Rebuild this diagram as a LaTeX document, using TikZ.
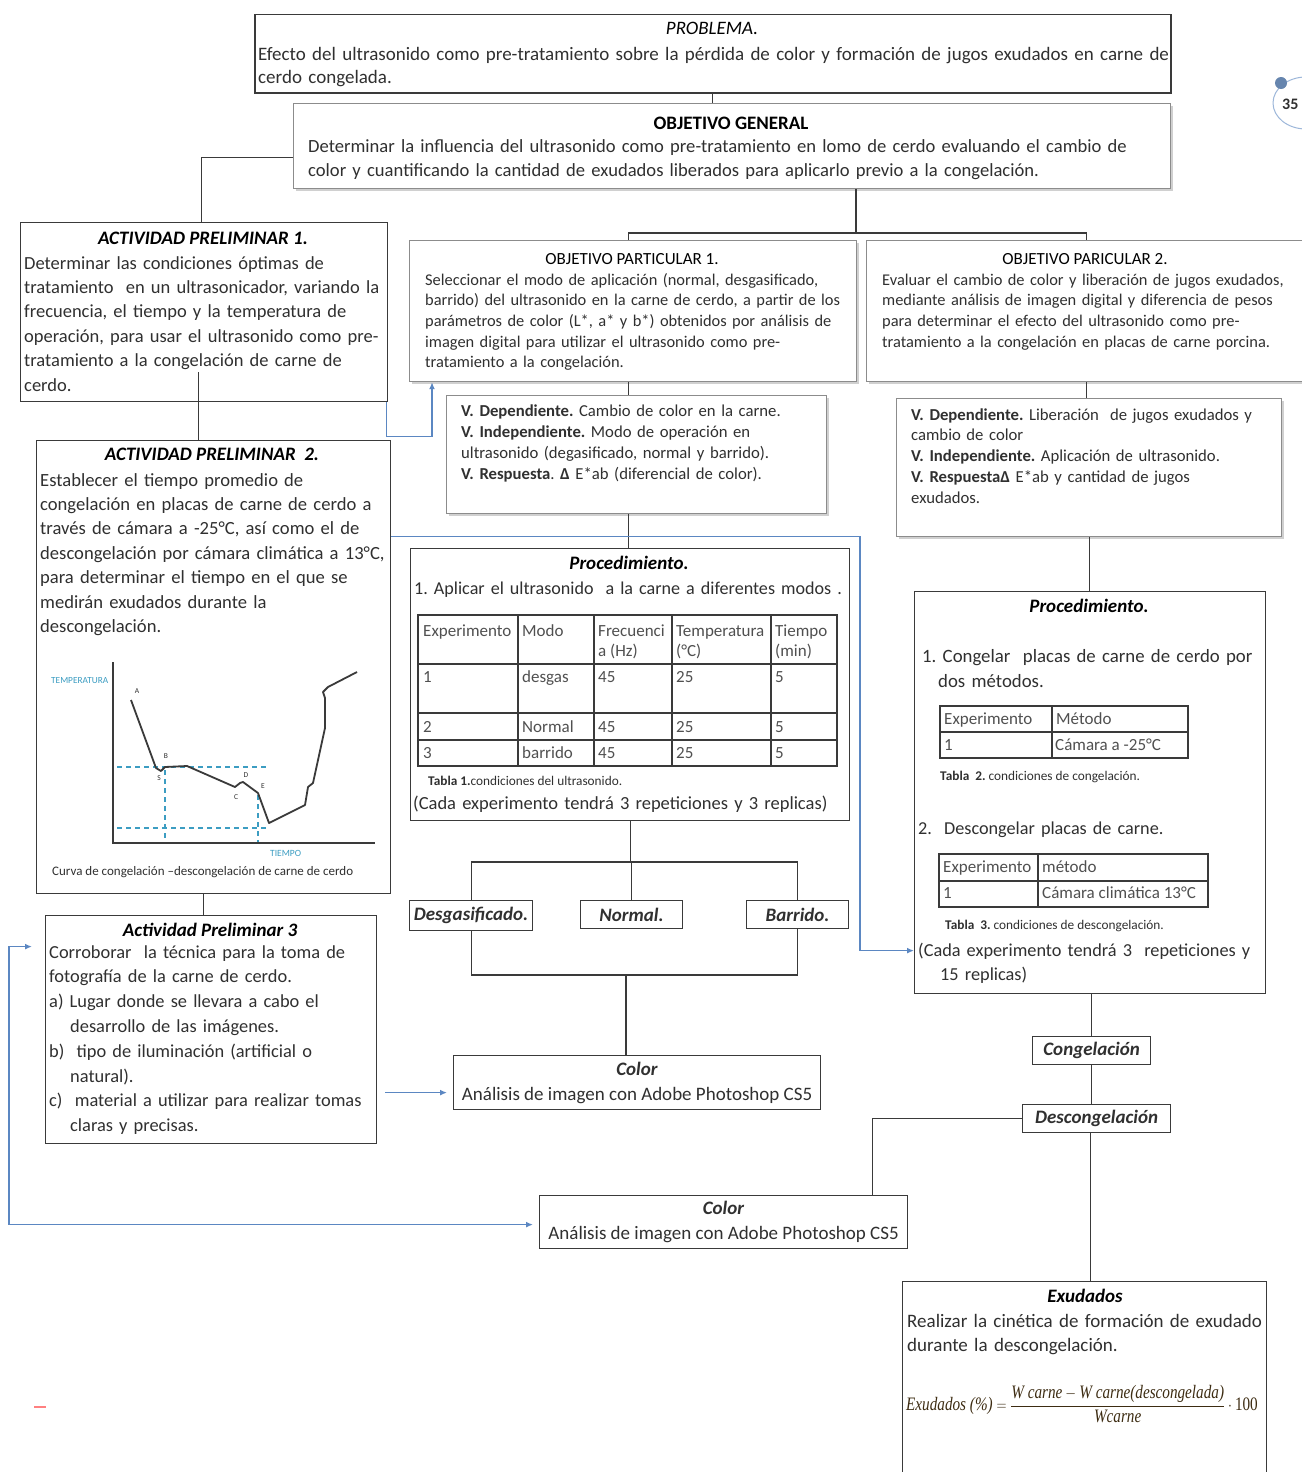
\documentclass[tikz,border=0pt]{standalone}
\usepackage{fontspec}
\usepackage{amsmath}
\usepackage{graphicx}
\setmainfont{Carlito}
\newfontfamily\formulafont{Liberation Serif}
\usetikzlibrary{shadows,arrows.meta}
\frenchspacing

\definecolor{inkbody}{HTML}{303030}
\definecolor{inkframe}{HTML}{3A3A3A}
\definecolor{inksoft}{HTML}{8C8C8C}
\definecolor{inkblue}{HTML}{5B87C2}
\definecolor{inkteal}{HTML}{3C9DC2}
\definecolor{inkcell}{HTML}{505050}
\definecolor{inkformula}{HTML}{3D2C12}

\newcommand\fs[2]{\fontsize{#1pt}{#2pt}\selectfont}
\newcommand\jl[1]{\makebox[\hsize][s]{#1}\\}
\newcommand\fv[1]{\text{\formulafont\itshape #1}}
\newcommand\cellat[3]{\node[celltxt] (#1) at (#2) {#3};}
\newcommand\twoline[2]{\begin{tabular}{@{}c@{}}#1\\#2\end{tabular}}

\tikzset{
  plainbox/.style={draw=inkframe, line width=1.2pt, fill=white, inner sep=0pt, anchor=north west},
  shadebox/.style={draw=inksoft, line width=1.2pt, fill=white, inner sep=0pt, anchor=north west,
     drop shadow={opacity=0.3, shadow xshift=2.5pt, shadow yshift=-2.5pt, fill=black!60}},
  tagbox/.style={plainbox, font=\fs{19}{22}\bfseries\itshape, text=inkbody},
  bodytxt/.style={anchor=base west, inner sep=0pt, text=inkbody},
  titletxt/.style={anchor=base, inner sep=0pt, text=black},
  celltxt/.style={anchor=base west, inner sep=0pt, text=inkcell, font=\fs{17}{18}},
  captxt/.style={anchor=base west, inner sep=0pt, text=inkbody, font=\fs{13.3}{14}},
  wire/.style={draw=inkframe, line width=1.1pt},
  bluewire/.style={draw=inkblue, line width=1.4pt, -{Latex[length=7pt,width=6pt]}},
  gridline/.style={draw=inkframe, line width=1.3pt},
  chartlbl/.style={inner sep=0pt, font=\fs{7.5}{8}, text=inkbody},
}

\begin{document}
\begin{tikzpicture}[x=1pt,y=-1pt]
\useasboundingbox (0,0) rectangle (1301,1472);
\fill[white] (0,0) rectangle (1301,1472);

% ---------- problem statement
\node[plainbox, line width=1.5pt, minimum width=916pt, minimum height=78pt] (prob) at (254,14) {};
\node[titletxt, font=\fs{19}{22}\itshape] (probt) at (712,35) {PROBLEMA.};
\node[bodytxt, text width=907pt, font=\fs{19}{24}] (probx) at (258,60)
  {\jl{Efecto del ultrasonido como pre-tratamiento sobre la pérdida de color y formación de jugos exudados en carne de}cerdo congelada.};

% ---------- general objective
\node[shadebox, minimum width=877pt, minimum height=85pt] (objg) at (293,103) {};
\node[titletxt, font=\fs{19}{22}\bfseries] (objgt) at (731,129) {OBJETIVO GENERAL};
\node[bodytxt, text width=950pt, font=\fs{18.6}{24}] (objgx) at (308,152)
  {Determinar la influencia del ultrasonido como pre-tratamiento en lomo de cerdo evaluando el cambio de\\color y cuantificando la cantidad de exudados liberados para aplicarlo previo a la congelación.};

% ---------- preliminary activity 1
\node[plainbox, minimum width=367pt, minimum height=179pt] (ap1) at (20,222) {};
\node[titletxt, font=\fs{19}{22}\bfseries\itshape] (ap1t) at (203,244) {ACTIVIDAD PRELIMINAR 1.};
\node[bodytxt, text width=359pt, font=\fs{18.5}{24.4}] (ap1x) at (24,269)
  {\jl{Determinar las condiciones óptimas de}\jl{tratamiento\ \ en un ultrasonicador, variando la}\jl{frecuencia, el tiempo y la temperatura de}\jl{operación, para usar el ultrasonido como pre-}\jl{tratamiento a la congelación de carne de}cerdo.};

% ---------- particular objectives
\node[shadebox, minimum width=447pt, minimum height=141pt] (op1) at (409,240) {};
\node[titletxt, font=\fs{17}{18}] (op1t) at (632,264.5) {OBJETIVO PARTICULAR 1.};
\node[bodytxt, text width=500pt, font=\fs{16.4}{20.7}] (op1x) at (425,285)
  {Seleccionar el modo de aplicación (normal, desgasificado,\\barrido) del ultrasonido en la carne de cerdo, a partir de los\\parámetros de color (L*, a* y b*) obtenidos por análisis de\\imagen digital para utilizar el ultrasonido como pre-\\tratamiento a la congelación.};

\node[shadebox, minimum width=440pt, minimum height=141pt] (op2) at (866,240) {};
\node[titletxt, font=\fs{17}{18}] (op2t) at (1085,264.5) {OBJETIVO PARICULAR 2.};
\node[bodytxt, text width=500pt, font=\fs{16.4}{20.7}] (op2x) at (882,285)
  {Evaluar el cambio de color y liberación de jugos exudados,\\mediante análisis de imagen digital y diferencia de pesos\\para determinar el efecto del ultrasonido como pre-\\tratamiento a la congelación en placas de carne porcina.};

% ---------- variables
\node[shadebox, minimum width=380pt, minimum height=118pt] (v1) at (446,395) {};
\node[bodytxt, text width=500pt, font=\fs{16.7}{21}] (v1x) at (461,416)
  {\textbf{V. Dependiente.} Cambio de color en la carne.\\\textbf{V. Independiente.} Modo de operación en\\ultrasonido (degasificado, normal y barrido).\\\textbf{V. Respuesta}. \textbf{Δ} E*ab (diferencial de color).};

\node[shadebox, minimum width=385pt, minimum height=138pt] (v2) at (896,398) {};
\node[bodytxt, text width=500pt, font=\fs{16.7}{20.8}] (v2x) at (911,420)
  {\textbf{V. Dependiente.} Liberación\ \ de jugos exudados y\\cambio de color\\\textbf{V. Independiente.} Aplicación de ultrasonido.\\\textbf{V. Respuesta}\textbf{Δ} E*ab y cantidad de jugos\\exudados.};

% ---------- preliminary activity 2
\node[plainbox, minimum width=354pt, minimum height=453pt] (ap2) at (36,440) {};
\node[titletxt, font=\fs{19}{22}\bfseries\itshape] (ap2t) at (212,460) {ACTIVIDAD PRELIMINAR\ \ 2.};
\node[bodytxt, text width=346pt, font=\fs{18.6}{24.4}] (ap2x) at (40,486)
  {\jl{Establecer el tiempo promedio de}\jl{congelación en placas de carne de cerdo a}\jl{través de cámara a -25°C, así como el de}\jl{descongelación por cámara climática a 13°C,}\jl{para determinar el tiempo en el que se}\jl{medirán exudados durante la}descongelación.};

% freezing / thawing curve
\draw[inkteal, line width=1.3pt, dash pattern=on 5pt off 4pt]
  (117,767) -- (268,767) (165,770) -- (165,842)
  (117,828) -- (268,828) (258,795) -- (258,842);
\draw[inkframe, line width=1.5pt] (113,662) -- (113,843) -- (375,843);
\draw[inkframe, line width=1.8pt, line join=round]
  (131,700) -- (156,768) -- (161,771) -- (165,767) -- (187,766) -- (235,787)
  -- (240,783) -- (243,782) -- (258,793) -- (269,823) -- (275,820) -- (305,805)
  -- (308,787) -- (313,783) -- (325,728) -- (325,698) -- (323,692) -- (328,687) -- (357,672);
\node[chartlbl] (lbA) at (137,691) {A};
\node[chartlbl] (lbB) at (166,756) {B};
\node[chartlbl] (lbS) at (159,778) {S};
\node[chartlbl] (lbD) at (246,775) {D};
\node[chartlbl] (lbC) at (236,797) {C};
\node[chartlbl] (lbE) at (263,786) {E};
\node[inner sep=0pt, anchor=west, font=\fs{9.3}{10}, text=inkteal] (lbTemp) at (51,681) {TEMPERATURA};
\node[inner sep=0pt, anchor=west, font=\fs{9.5}{10}, text=inkteal] (lbTime) at (270,853) {TIEMPO};
\node[inner sep=0pt, anchor=west, font=\fs{13}{14}, text=inkbody] (lbCap) at (52,872)
  {Curva de congelación –descongelación de carne de cerdo};

% ---------- preliminary activity 3
\node[plainbox, minimum width=331pt, minimum height=228pt] (ap3) at (45,915) {};
\node[titletxt, font=\fs{19}{22}\bfseries\itshape] (ap3t) at (210,936) {Actividad Preliminar 3};
\node[bodytxt, text width=400pt, font=\fs{18.4}{24.8}] (ap3x) at (49,958)
  {Corroborar\ \ la técnica para la toma de\\fotografía de la carne de cerdo.\\a) Lugar donde se llevara a cabo el\\\hspace*{21pt}desarrollo de las imágenes.\\b)\ \ tipo de iluminación (artificial o\\\hspace*{21pt}natural).\\c)\ \ material a utilizar para realizar tomas\\\hspace*{21pt}claras y precisas.};

% ---------- procedure 1
\node[plainbox, minimum width=439pt, minimum height=272pt] (p1) at (410,548) {};
\node[titletxt, font=\fs{19}{22}\bfseries\itshape] (p1t) at (629,569) {Procedimiento.};
\node[bodytxt, text width=500pt, font=\fs{18.1}{22}] (p1a) at (414,594) {1. Aplicar el ultrasonido\ \ a la carne a diferentes modos .};
\draw[gridline] (418,615) rectangle (837,766);
\draw[gridline] (418,664) -- (837,664) (418,713) -- (837,713) (418,740) -- (837,740)
  (518,615) -- (518,766) (594,615) -- (594,766) (672,615) -- (672,766) (771,615) -- (771,766);
\cellat{ta1}{423,636.5}{Experimento}
\cellat{ta2}{522,636.5}{Modo}
\cellat{ta3}{598,636.5}{Frecuenci}
\cellat{ta4}{676,636.5}{Temperatura}
\cellat{ta5}{775,636.5}{Tiempo}
\cellat{tb3}{598,656.5}{a (Hz)}
\cellat{tb4}{676,656.5}{(°C)}
\cellat{tb5}{775,656.5}{(min)}
\cellat{tc1}{423,682.5}{1}
\cellat{tc2}{522,682.5}{desgas}
\cellat{tc3}{598,682.5}{45}
\cellat{tc4}{676,682.5}{25}
\cellat{tc5}{775,682.5}{5}
\cellat{td1}{423,732.5}{2}
\cellat{td2}{522,732.5}{Normal}
\cellat{td3}{598,732.5}{45}
\cellat{td4}{676,732.5}{25}
\cellat{td5}{775,732.5}{5}
\cellat{te1}{423,758.5}{3}
\cellat{te2}{522,758.5}{barrido}
\cellat{te3}{598,758.5}{45}
\cellat{te4}{676,758.5}{25}
\cellat{te5}{775,758.5}{5}
\node[captxt] (p1cap) at (428,785.5) {\textbf{Tabla\ 1.}condiciones del ultrasonido.};
\node[bodytxt, text width=500pt, font=\fs{18.5}{22}] (p1b) at (413,809) {(Cada experimento tendrá 3 repeticiones y 3 replicas)};

% ---------- operating modes
\node[tagbox, minimum width=123pt, minimum height=30pt] (des) at (409,900) {Desgasificado.};
\node[tagbox, minimum width=102pt, minimum height=28pt] (nor) at (580,900) {Normal.};
\node[tagbox, minimum width=102pt, minimum height=28pt] (bar) at (746,900) {Barrido.};

% ---------- colour analysis (1)
\node[plainbox, minimum width=367pt, minimum height=54pt, font=\fs{19}{25}, text=inkbody] (c1) at (453,1055)
  {\twoline{\textbf{\textit{Color}}}{Análisis de imagen con Adobe Photoshop CS5}};

% ---------- procedure 2
\node[plainbox, minimum width=351pt, minimum height=402pt] (p2) at (914,591) {};
\node[titletxt, font=\fs{19}{22}\bfseries\itshape] (p2t) at (1089,612) {Procedimiento.};
\node[bodytxt, text width=338pt, font=\fs{18.8}{25.5}] (p2a) at (922,662)
  {\jl{1. Congelar\ \ placas de carne de cerdo por}\hspace*{16pt}dos métodos.};
\draw[gridline] (940,706) rectangle (1188,758);
\draw[gridline] (940,732) -- (1188,732) (1052,706) -- (1052,758);
\cellat{tf1}{944,724.5}{Experimento}
\cellat{tf2}{1056,724.5}{Método}
\cellat{tg1}{944,750.5}{1}
\cellat{tg2}{1055,750.5}{Cámara a -25°C}
\node[captxt] (p2cap1) at (940,780) {\textbf{Tabla\ \ 2.} condiciones de congelación.};
\node[bodytxt, text width=340pt, font=\fs{18.2}{24}] (p2b) at (918,834) {2.\ \ Descongelar placas de carne.};
\draw[gridline] (939,854) rectangle (1208,907);
\draw[gridline] (939,881) -- (1208,881) (1038,854) -- (1038,907);
\cellat{th1}{943,872.5}{Experimento}
\cellat{th2}{1042,872.5}{método}
\cellat{ti1}{943,898.5}{1}
\cellat{ti2}{1042,898.5}{Cámara climática 13°C}
\node[captxt] (p2cap2) at (945,929) {\textbf{Tabla\ \ 3.} condiciones de descongelación.};
\node[bodytxt, text width=345pt, font=\fs{18.3}{24.5}] (p2c) at (918,956)
  {(Cada experimento tendrá 3\ \ repeticiones y\\\hspace*{22pt}15 replicas)};

% ---------- freezing / thawing stages
\node[tagbox, minimum width=118pt, minimum height=28pt] (cong) at (1032,1036) {Congelación};
\node[tagbox, minimum width=148pt, minimum height=28pt] (desc) at (1022,1104) {Descongelación};

% ---------- colour analysis (2)
\node[plainbox, minimum width=368pt, minimum height=53pt, font=\fs{19}{25}, text=inkbody] (c2) at (539,1195)
  {\twoline{\textbf{\textit{Color}}}{Análisis de imagen con Adobe Photoshop CS5}};

% ---------- exudates
\node[plainbox, minimum width=364pt, minimum height=200pt] (ex) at (902,1281) {};
\node[titletxt, font=\fs{19}{22}\bfseries\itshape] (ext) at (1085,1302) {Exudados};
\node[bodytxt, text width=355pt, font=\fs{19}{24}] (exx) at (907,1327)
  {\jl{Realizar la cinética de formación de exudado}durante la descongelación.};
\node[anchor=west, inner sep=0pt, text=inkformula, font=\fs{19}{22}] (exf) at (906,1404)
  {\scalebox{0.8}[1]{$\fv{Exudados (\%)} = \dfrac{\fv{W carne} - \fv{W carne(descongelada)}}{\fv{Wcarne}}\cdot\text{\formulafont 100}$}};

% ---------- black connectors
\draw[wire] (prob.south) -- (prob.south |- objg.north);
\draw[wire] ([yshift=-11.5pt]objg.west) -| ([xshift=-2.5pt]ap1.north);
\coordinate (splitA) at (856,233);
\draw[wire] (objg.south -| splitA) -- (splitA);
\draw[wire] ([xshift=-4.5pt]op1.north) |- (splitA) -| (op2.north);
\draw[wire] ([xshift=-4.5pt]op1.south) -- ([xshift=-4.5pt]op1.south |- v1.north);
\draw[wire] ([xshift=-8pt]v1.south) -- ([xshift=-8pt]v1.south |- p1.north);
\draw[wire] (op2.south) -- (op2.south |- v2.north);
\draw[wire] (v2.south) -- (v2.south |- p2.north);
\draw[wire] ([xshift=-5.5pt,yshift=30pt]ap1.south) -- ([xshift=-5.5pt]ap1.south |- ap2.north);
\draw[wire] ([xshift=-10pt]ap2.south) -- ([xshift=-10pt]ap2.south |- ap3.north);
\coordinate (busA) at (629,862);
\draw[wire] (p1.south) -- (p1.south |- busA);
\draw[wire] (des.north) -- (des.north |- busA) -- (bar.north |- busA) -- (bar.north);
\draw[wire] (nor.north) -- (nor.north |- busA);
\coordinate (busB) at (626,975);
\draw[wire] (des.south) -- (des.south |- busB) -- (bar.south |- busB) -- (bar.south);
\draw[wire] (c1.north -| busB) -- (busB);
\draw[wire] (p2.south -| cong.north) -- (cong.north);
\draw[wire] (cong.south) -- (cong.south |- desc.north);
\draw[wire] (desc.west) -| ([xshift=149pt]c2.north);
\draw[wire] ([xshift=-6pt]desc.south) -- ([xshift=-6pt]desc.south |- ex.north);

% ---------- blue connectors
\draw[bluewire] ([xshift=-2pt]ap1.south east) -- ++(0,34) -| ([xshift=23pt]op1.south west);
\draw[bluewire] ([yshift=130.5pt]ap2.east) -| ([xshift=-54pt,yshift=-158pt]p2.west) -- ([yshift=-158pt]p2.west);
\coordinate (c1in) at ([xshift=-6pt,yshift=-10pt]c1.west);
\draw[bluewire] ([xshift=8pt]ap3.east |- c1in) -- (c1in);
\coordinate (ap3in) at ([xshift=-13pt,yshift=83pt]ap3.west);
\draw[bluewire, {Latex[length=7pt,width=6pt]}-{Latex[length=7pt,width=6pt]}]
  (ap3in) -- ++(-23,0) |- ([xshift=-6pt,yshift=-2.5pt]c2.west);

% ---------- margin marks
\draw[red!50, line width=2.5pt] (34,1407) -- (46,1407);
\draw[inkblue!60, line width=1pt] (1306,103) ellipse [x radius=33pt, y radius=26pt];
\fill[inkblue!70!gray] (1281,83) circle[radius=6pt];
\node[anchor=base west, inner sep=0pt, font=\fs{16}{20}\bfseries, text=inkbody] (pageno) at (1282,109) {35};
\end{tikzpicture}
\end{document}
